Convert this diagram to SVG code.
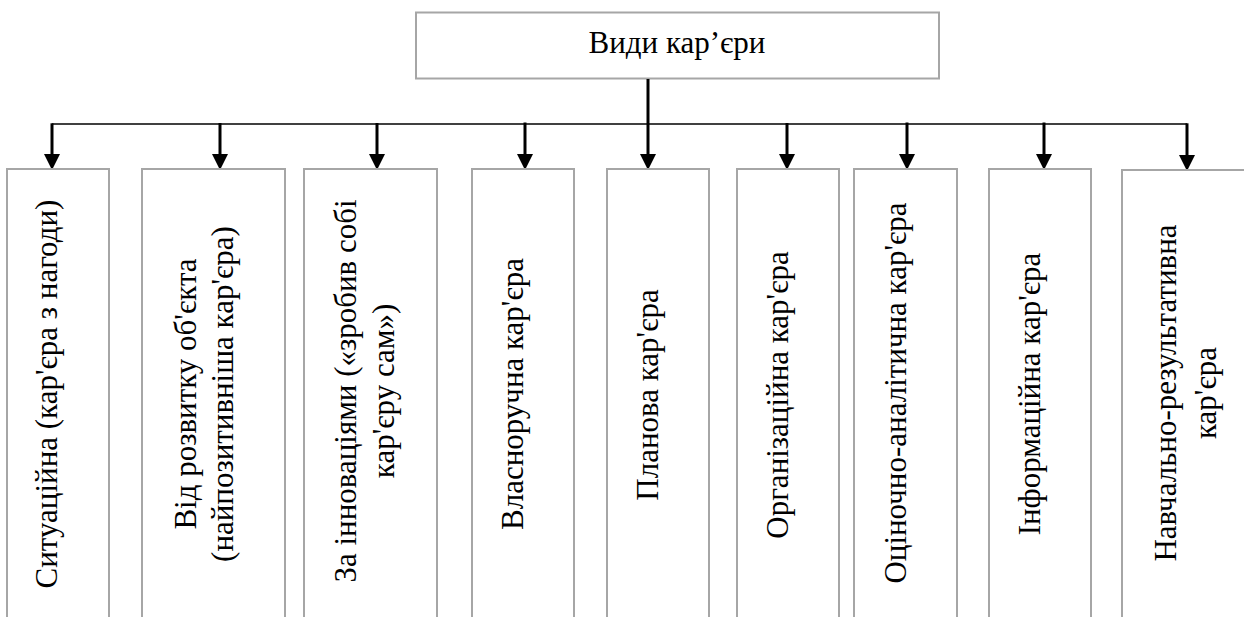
<svg xmlns="http://www.w3.org/2000/svg" width="1244" height="617" viewBox="0 0 1244 617">
  <style>
    .box { fill: #ffffff; stroke: #a6a6a6; stroke-width: 2; }
    .lbl { font-family: "Liberation Serif", "Times New Roman", serif; font-size: 31px; fill: #000000; text-anchor: middle; }
    .stem { stroke: #000000; stroke-width: 3; fill: none; }
    .bus { stroke: #000000; stroke-width: 1.5; fill: none; }
  </style>
  <defs>
    <marker id="arrow" markerUnits="userSpaceOnUse" markerWidth="16" markerHeight="16" refX="0" refY="8" orient="auto" viewBox="0 0 16 16">
      <path d="M0,0 L16,8 L0,16 z" fill="#000000"/>
    </marker>
  </defs>
  <rect width="1244" height="617" fill="#ffffff"/>

  <g id="root">
    <rect class="box" x="416" y="12.5" width="523" height="66"/>
    <text class="lbl" x="677" y="52.5">Види кар’єри</text>
  </g>

  <g id="connectors">
    <line class="stem" x1="648" y1="79" x2="648" y2="154" marker-end="url(#arrow)"/>
    <polyline class="bus" points="52,124 1187,124"/>
    <line class="stem" x1="52" y1="123.3" x2="52" y2="154" marker-end="url(#arrow)"/>
    <line class="stem" x1="220" y1="123" x2="220" y2="154" marker-end="url(#arrow)"/>
    <line class="stem" x1="377" y1="123" x2="377" y2="154" marker-end="url(#arrow)"/>
    <line class="stem" x1="525" y1="122.5" x2="525" y2="154" marker-end="url(#arrow)"/>
    <line class="stem" x1="787" y1="123" x2="787" y2="154" marker-end="url(#arrow)"/>
    <line class="stem" x1="907" y1="122.5" x2="907" y2="154" marker-end="url(#arrow)"/>
    <line class="stem" x1="1044" y1="122.5" x2="1044" y2="154" marker-end="url(#arrow)"/>
    <line class="stem" x1="1187" y1="123.3" x2="1187" y2="155" marker-end="url(#arrow)"/>
  </g>

  <g id="n1">
    <rect class="box" x="7" y="169" width="102" height="470"/>
    <text class="lbl" transform="translate(57,394) rotate(-90)">Ситуаційна (кар'єра з нагоди)</text>
  </g>
  <g id="n2">
    <rect class="box" x="142" y="169" width="143" height="470"/>
    <text class="lbl" transform="translate(196,394) rotate(-90)"><tspan x="0" y="0">Від розвитку об'єкта</tspan><tspan x="0" y="37">(найпозитивніша кар'єра)</tspan></text>
  </g>
  <g id="n3">
    <rect class="box" x="304" y="169" width="133" height="470"/>
    <text class="lbl" transform="translate(356,391) rotate(-90)"><tspan x="0" y="0">За інноваціями («зробив собі</tspan><tspan x="0" y="38">кар'єру сам»)</tspan></text>
  </g>
  <g id="n4">
    <rect class="box" x="472" y="169" width="102" height="470"/>
    <text class="lbl" transform="translate(523,394) rotate(-90)">Власноручна кар'єра</text>
  </g>
  <g id="n5">
    <rect class="box" x="607" y="169" width="102" height="470"/>
    <text class="lbl" transform="translate(658,395) rotate(-90)">Планова кар'єра</text>
  </g>
  <g id="n6">
    <rect class="box" x="737" y="169" width="102" height="470"/>
    <text class="lbl" transform="translate(788,395) rotate(-90)">Організаційна кар'єра</text>
  </g>
  <g id="n7">
    <rect class="box" x="854" y="169" width="103" height="470"/>
    <text class="lbl" transform="translate(906,393) rotate(-90)">Оціночно-аналітична кар'єра</text>
  </g>
  <g id="n8">
    <rect class="box" x="989" y="169" width="102" height="470"/>
    <text class="lbl" transform="translate(1040,394) rotate(-90)">Інформаційна кар'єра</text>
  </g>
  <g id="n9">
    <rect class="box" x="1122" y="170" width="140" height="470"/>
    <text class="lbl" transform="translate(1176,393) rotate(-90)"><tspan x="0" y="0">Навчально-результативна</tspan><tspan x="0" y="40">кар'єра</tspan></text>
  </g>
</svg>
